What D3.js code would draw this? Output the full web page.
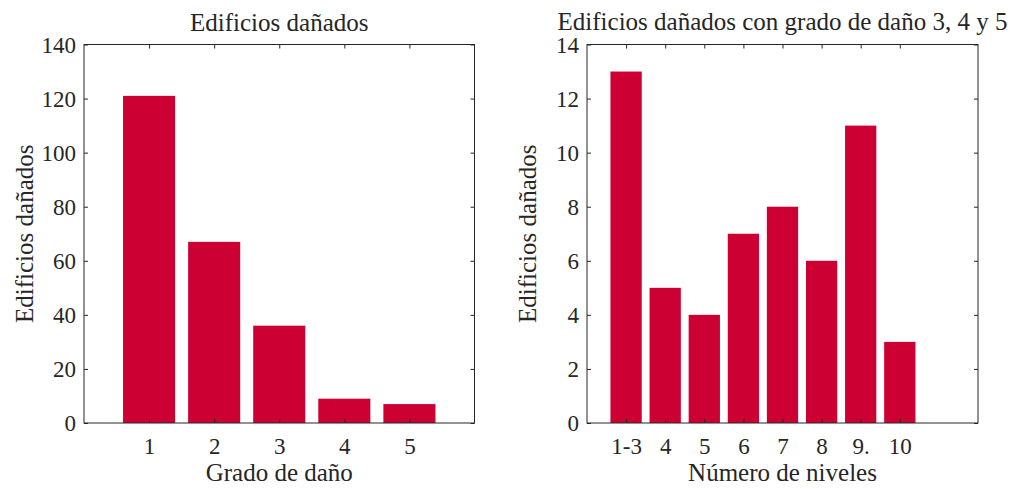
<!DOCTYPE html>
<html>
<head>
<meta charset="utf-8">
<script src="https://cdn.jsdelivr.net/npm/d3@7"></script>
<style>
  html, body { margin: 0; padding: 0; background: #fff; }
  svg { display: block; }
  text { font-family: "Liberation Serif", "Times New Roman", serif; fill: #262626; }
</style>
</head>
<body>
<svg id="chart" width="1012" height="489"></svg>
<script>
// Damage grade chart
const gradeLabels = ["1", "2", "3", "4", "5"];
const gradeCounts = [121, 67, 36, 9, 7];
const gradeTicksY = [0, 20, 40, 60, 80, 100, 120, 140];

// Buildings with damage grade 3-5 by number of storeys
const storeyLabels = ["1-3", "4", "5", "6", "7", "8", "9.", "10"];
const storeyCounts = [13, 5, 4, 7, 8, 6, 11, 3];
const storeyTicksY = [0, 2, 4, 6, 8, 10, 12, 14];

const barColor = "#cc0033";
const axisColor = "#262626";
const tickFont = 23;
const labelFont = 25;
const serif = '"Liberation Serif", "Times New Roman", serif';

const svg = d3.select("#chart");

function panel(opts) {
  const { left, right, top, bottom, labels, values, xMax, yMax, yTicks, title, titleY, xTitle, yTitle } = opts;
  const g = svg.append("g");

  const x = d3.scaleLinear().domain([0, xMax]).range([left, right]);
  const y = d3.scaleLinear().domain([0, yMax]).range([bottom, top]);
  const positions = labels.map((_, i) => i + 1);
  const barW = (x(1) - x(0)) * 0.8;

  // bars
  g.selectAll("rect.bar").data(values).join("rect")
    .attr("class", "bar")
    .attr("x", (d, i) => x(positions[i]) - barW / 2)
    .attr("y", d => y(d))
    .attr("width", barW)
    .attr("height", d => y(0) - y(d))
    .attr("fill", barColor);

  const tickLen = 4;
  const styleAxis = sel => {
    sel.attr("font-family", null).attr("font-size", null);
    sel.select(".domain").remove();
    sel.selectAll(".tick line").attr("stroke", axisColor).attr("stroke-width", 1);
    sel.selectAll(".tick text")
      .style("font-family", serif)
      .style("font-size", tickFont + "px")
      .attr("fill", axisColor);
  };

  // bottom axis
  const xb = g.append("g").attr("transform", `translate(0,${bottom})`)
    .call(d3.axisBottom(x).tickValues(positions).tickFormat((d, i) => labels[i])
      .tickSizeInner(-tickLen).tickSizeOuter(0).tickPadding(15));
  styleAxis(xb);
  // top axis (ticks only)
  const xt = g.append("g").attr("transform", `translate(0,${top})`)
    .call(d3.axisTop(x).tickValues(positions).tickFormat("")
      .tickSizeInner(-tickLen).tickSizeOuter(0));
  styleAxis(xt);
  // left axis
  const yl = g.append("g").attr("transform", `translate(${left},0)`)
    .call(d3.axisLeft(y).tickValues(yTicks).tickFormat(d3.format("d"))
      .tickSizeInner(-tickLen).tickSizeOuter(0).tickPadding(8));
  styleAxis(yl);
  yl.selectAll(".tick text").attr("dy", "0.34em");
  // right axis (ticks only)
  const yr = g.append("g").attr("transform", `translate(${right},0)`)
    .call(d3.axisRight(y).tickValues(yTicks).tickFormat("")
      .tickSizeInner(-tickLen).tickSizeOuter(0));
  styleAxis(yr);

  // box
  g.append("rect")
    .attr("x", left).attr("y", top)
    .attr("width", right - left).attr("height", bottom - top)
    .attr("fill", "none").attr("stroke", axisColor).attr("stroke-width", 1);

  // title
  g.append("text")
    .attr("x", (left + right) / 2).attr("y", titleY)
    .attr("text-anchor", "middle")
    .style("font-size", labelFont + "px")
    .attr("fill", "#000")
    .text(title);
  // x label
  g.append("text")
    .attr("x", (left + right) / 2).attr("y", 481)
    .attr("text-anchor", "middle")
    .style("font-size", labelFont + "px")
    .text(xTitle);
  // y label
  g.append("text")
    .attr("transform", `translate(${left - 51},${(top + bottom) / 2}) rotate(-90)`)
    .attr("text-anchor", "middle")
    .style("font-size", labelFont + "px")
    .text(yTitle);
}

panel({
  left: 84, right: 474.5, top: 44.5, bottom: 423,
  labels: gradeLabels, values: gradeCounts, xMax: 6, yMax: 140, yTicks: gradeTicksY,
  title: "Edificios dañados", titleY: 31, xTitle: "Grado de daño", yTitle: "Edificios dañados"
});

panel({
  left: 587, right: 978, top: 44.5, bottom: 423,
  labels: storeyLabels, values: storeyCounts, xMax: 10, yMax: 14, yTicks: storeyTicksY,
  title: "Edificios dañados con grado de daño 3, 4 y 5", titleY: 30, xTitle: "Número de niveles", yTitle: "Edificios dañados"
});
</script>
</body>
</html>
